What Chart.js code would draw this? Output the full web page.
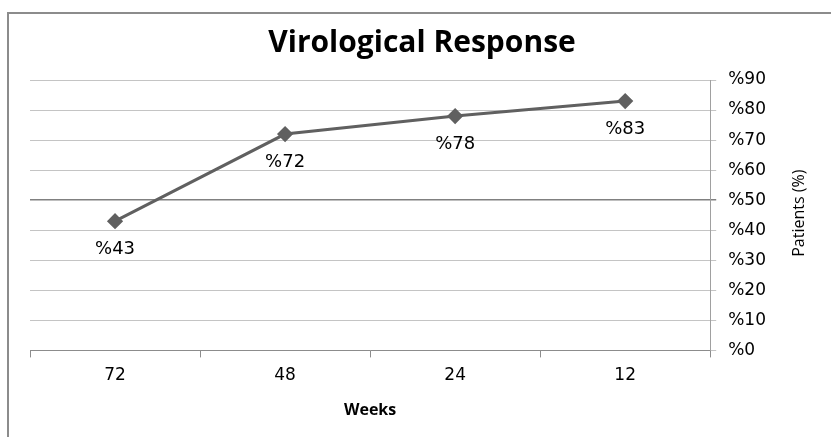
<!DOCTYPE html>
<html>
<head>
<meta charset="utf-8">
<script src="https://cdn.jsdelivr.net/npm/chart.js@4.4.0/dist/chart.umd.min.js"></script>
<style>
html, body { margin: 0; padding: 0; background: #fff; }
#wrap { position: relative; width: 831px; height: 437px; }
#frame { position: absolute; left: 7px; top: 12px; right: 0; bottom: 0;
  border-left: 2px solid #8c8c8c; border-top: 2px solid #8c8c8c; }
#c { position: absolute; left: 0; top: 0; }
</style>
</head>
<body>
<div id="wrap">
  <div id="frame"></div>
  <canvas id="c" width="831" height="437"></canvas>
</div>
<script>
// values
const weeks = ['72', '48', '24', '12'];
const responsePct = [43, 72, 78, 83];
const yMin = 0;
const yMax = 90;
const yStep = 10;
const chartTitle = 'Virological Response';
const yTitle = 'Patients (%)';

const tickFont = { family: '"DejaVu Sans", Arial, sans-serif', size: 17 };

// title (sits a bit right of centre in the original), "%NN" under each
// point, and the right axis title read bottom-to-top
const extraText = {
    id: 'extraText',
    afterDatasetsDraw(chart) {
        const ctx = chart.ctx;
        const meta = chart.getDatasetMeta(0);
        ctx.save();
        ctx.font = '18px "DejaVu Sans", Arial, sans-serif';
        ctx.fillStyle = '#000';
        ctx.textAlign = 'center';
        ctx.textBaseline = 'middle';
        meta.data.forEach((pt, i) => {
            ctx.fillText('%' + responsePct[i], pt.x, pt.y + 28);
        });
        ctx.restore();
    },
    afterDraw(chart) {
        const ctx = chart.ctx;
        const area = chart.chartArea;
        ctx.save();
        ctx.fillStyle = '#000';
        ctx.textAlign = 'center';
        ctx.textBaseline = 'middle';
        ctx.font = 'bold 30px "Open Sans", sans-serif';
        ctx.fillText(chartTitle, 422, 43);
        ctx.translate(chart.width - 32, (area.top + area.bottom) / 2 - 2);
        ctx.rotate(-Math.PI / 2);
        ctx.font = '16px "Open Sans", sans-serif';
        ctx.fillText(yTitle, 0, 0);
        ctx.restore();
    }
};

new Chart(document.getElementById('c').getContext('2d'), {
    type: 'line',
    data: {
        labels: weeks,
        datasets: [{
            data: responsePct,
            borderColor: '#606060',
            borderWidth: 3,
            pointStyle: 'rectRot',
            pointRadius: 6,
            pointBackgroundColor: '#606060',
            pointBorderColor: '#606060',
            tension: 0
        }]
    },
    options: {
        responsive: false,
        animation: false,
        layout: { padding: { left: 30, right: 53, top: 80, bottom: 17 } },
        plugins: {
            legend: { display: false },
            tooltip: { enabled: false },
            title: { display: false }
        },
        scales: {
            x: {
                offset: true,
                grid: {
                    offset: true,
                    drawOnChartArea: false,
                    color: '#8c8c8c',
                    tickLength: 7
                },
                border: { display: true, color: '#8c8c8c', width: 1 },
                ticks: {
                    color: '#000',
                    font: tickFont,
                    padding: 8
                },
                title: {
                    display: true,
                    text: 'Weeks',
                    color: '#000',
                    font: { family: '"Open Sans"', size: 16, weight: 'bold' },
                    padding: { top: 7, bottom: 0 }
                }
            },
            y: {
                position: 'right',
                min: yMin,
                max: yMax,
                ticks: {
                    stepSize: yStep,
                    color: '#000',
                    font: tickFont,
                    padding: 12,
                    callback: v => '%' + v
                },
                grid: {
                    color: c => c.tick && c.tick.value === 50 ? '#808080' : '#c4c4c4',
                    lineWidth: c => c.tick && c.tick.value === 50 ? 1.5 : 1,
                    tickLength: 6
                },
                border: { display: true, color: '#a0a0a0', width: 1 }
            }
        }
    },
    plugins: [extraText]
});
</script>
</body>
</html>
